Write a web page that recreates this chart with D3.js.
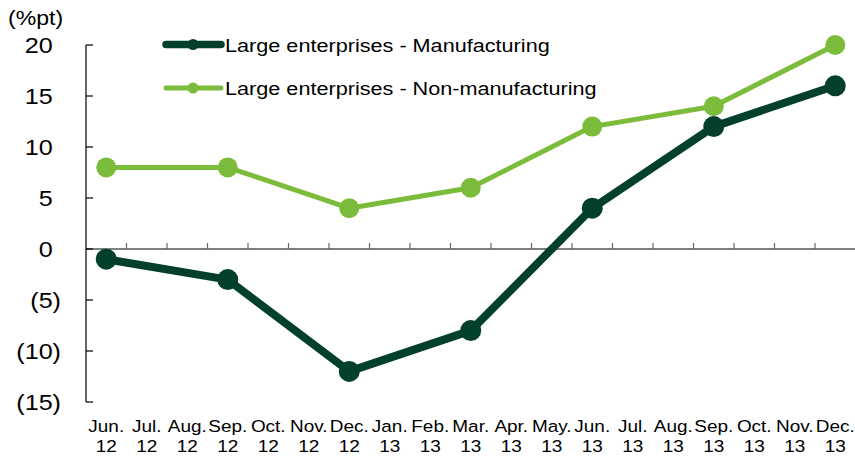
<!DOCTYPE html>
<html>
<head>
<meta charset="utf-8">
<script src="https://cdn.jsdelivr.net/npm/d3@7"></script>
<style>
  html, body { margin: 0; padding: 0; background: #fff; }
  svg text { font-family: "Liberation Sans", Arial, sans-serif; fill: #000; }
</style>
</head>
<body>
<svg id="chart" width="855" height="457"></svg>
<script>
// Category labels (two lines each: month / year)
const months = ["Jun.","Jul.","Aug.","Sep.","Oct.","Nov.","Dec.","Jan.","Feb.","Mar.","Apr.","May.","Jun.","Jul.","Aug.","Sep.","Oct.","Nov.","Dec."];
const years  = ["12","12","12","12","12","12","12","13","13","13","13","13","13","13","13","13","13","13","13"];

// Quarterly survey points (index into the month list)
const quarterIdx = [0, 3, 6, 9, 12, 15, 18];
const manufacturing    = [-1, -3, -12, -8, 4, 12, 16];
const nonManufacturing = [8, 8, 4, 6, 12, 14, 20];

const yTicks = [20, 15, 10, 5, 0, -5, -10, -15];
const seriesNames = ["Large enterprises - Manufacturing", "Large enterprises - Non-manufacturing"];

const DARK = "#023f2c";
const LIGHT = "#7bbd3b";
const SX = 1.17; // horizontal stretch of the lettering

const svg = d3.select("#chart");

const x = d3.scaleBand().domain(d3.range(months.length)).range([86, 855.5]).padding(0);
const y = d3.scaleLinear().domain([-15, 20]).range([402, 45]);

// stretched text helper
function label(g, tx, ty, str, size, anchor, sx) {
  return g.append("text")
    .attr("transform", `translate(${tx},${ty}) scale(${sx || SX},1)`)
    .attr("font-size", size)
    .attr("text-anchor", anchor || "start")
    .text(str);
}

// Y axis line and inward ticks
svg.append("line")
  .attr("x1", 86).attr("x2", 86).attr("y1", y(20)).attr("y2", y(-15))
  .attr("stroke", "#000").attr("stroke-width", 1.2);
yTicks.forEach(v => {
  svg.append("line")
    .attr("x1", 86).attr("x2", 93).attr("y1", y(v)).attr("y2", y(v))
    .attr("stroke", "#000").attr("stroke-width", 1.2);
});

// Y tick labels, negatives in parentheses
const yFont = 21.5;
const parenW = 0.333 * yFont * SX;
yTicks.forEach(v => {
  const str = v < 0 ? `(${-v})` : `${v}`;
  const right = v < 0 ? 61 : 61 - parenW;
  label(svg, right, y(v) + 7.5, str, yFont, "end");
});
label(svg, 8, 25, "(%pt)", 21, "start", 1.1);

// X axis at zero with category boundary ticks
svg.append("line")
  .attr("x1", 86).attr("x2", 855).attr("y1", y(0)).attr("y2", y(0))
  .attr("stroke", "#000").attr("stroke-width", 1.2);
d3.range(1, months.length).forEach(i => {
  const xp = x(i);
  svg.append("line")
    .attr("x1", xp).attr("x2", xp).attr("y1", y(0)).attr("y2", y(0) - 6)
    .attr("stroke", "#666").attr("stroke-width", 1.2);
});

// X category labels
months.forEach((m, i) => {
  const cx = x(i) + x.bandwidth() / 2;
  label(svg, cx, 432, m, 16.5, "middle", 1.15);
  label(svg, cx, 452, years[i], 16.5, "middle", 1.15);
});

// Series lines and markers
const line = d3.line().x(d => d[0]).y(d => d[1]);
function drawSeries(values, color, width, r) {
  const pts = values.map((v, k) => [x(quarterIdx[k]) + x.bandwidth() / 2, y(v)]);
  svg.append("path").attr("d", line(pts))
    .attr("fill", "none").attr("stroke", color).attr("stroke-width", width)
    .attr("stroke-linejoin", "round");
  svg.selectAll(null).data(pts).enter().append("circle")
    .attr("cx", d => d[0]).attr("cy", d => d[1]).attr("r", r).attr("fill", color);
}
drawSeries(nonManufacturing, LIGHT, 5, 10);
drawSeries(manufacturing, DARK, 8, 10.5);

// Legend
const legend = [
  { name: seriesNames[0], color: DARK, w: 7.5, y: 44.5, r: 5.5 },
  { name: seriesNames[1], color: LIGHT, w: 5, y: 88, r: 5.5 }
];
legend.forEach(d => {
  svg.append("line")
    .attr("x1", 166).attr("x2", 221).attr("y1", d.y).attr("y2", d.y)
    .attr("stroke", d.color).attr("stroke-width", d.w).attr("stroke-linecap", "round");
  svg.append("circle").attr("cx", 193).attr("cy", d.y).attr("r", d.r).attr("fill", d.color);
  label(svg, 225, d.y + 7, d.name, 18.5, "start");
});
</script>
</body>
</html>
